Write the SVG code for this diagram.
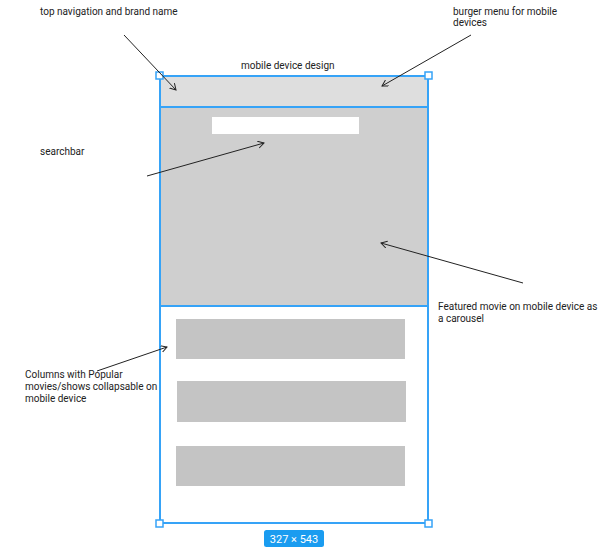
<svg xmlns="http://www.w3.org/2000/svg" width="600" height="550" viewBox="0 0 600 550">
  <style>
    .lbl { font-family: Roboto, "Liberation Sans", sans-serif; font-size: 10px; fill: #222; }
    .sel { fill: none; stroke: #36a3f7; stroke-width: 2; }
    .handle { fill: #fff; stroke: #36a3f7; stroke-width: 1.5; }
    .card { fill: #c4c4c4; }
    .conn { stroke: #222; stroke-width: 1; fill: none; marker-end: url(#arrow); }
    .badge-text { font-family: Roboto, "Liberation Sans", sans-serif; font-size: 11px; fill: #fff; }
  </style>
  <defs>
    <marker id="arrow" markerUnits="userSpaceOnUse" markerWidth="10" markerHeight="10" refX="6" refY="3.5" orient="auto">
      <path d="M0,0 L6,3.5 L0,7" fill="none" stroke="#222" stroke-width="1"/>
    </marker>
  </defs>
  <rect width="600" height="550" fill="#fff"/>

  <text class="lbl" x="241" y="69">mobile device design</text>

  <g id="header">
    <rect x="160" y="76" width="268" height="31" fill="#dedede"/>
  </g>
  <g id="hero">
    <rect x="160" y="107" width="268" height="199" fill="#cfcfcf"/>
  </g>
  <g id="searchbar">
    <rect x="212" y="117" width="147" height="17" fill="#fff"/>
  </g>
  <g id="card-1">
    <rect class="card" x="176" y="319" width="229" height="40"/>
  </g>
  <g id="card-2">
    <rect class="card" x="177" y="381" width="229" height="41"/>
  </g>
  <g id="card-3">
    <rect class="card" x="176" y="446" width="229" height="40"/>
  </g>

  <g id="frame">
    <rect class="sel" x="160" y="76" width="268" height="447"/>
    <line x1="160" y1="107" x2="428" y2="107" stroke="#36a3f7" stroke-width="2"/>
    <line x1="160" y1="306" x2="428" y2="306" stroke="#36a3f7" stroke-width="2"/>
    <rect class="handle" x="156" y="72" width="7" height="7"/>
    <rect class="handle" x="425" y="72" width="7" height="7"/>
    <rect class="handle" x="156" y="520" width="7" height="7"/>
    <rect class="handle" x="425" y="520" width="7" height="7"/>
  </g>

  <g id="size-badge">
    <rect x="264" y="530" width="60" height="17" rx="2.5" fill="#1a9cf0"/>
    <text class="badge-text" x="294" y="542.5" text-anchor="middle">327 × 543</text>
  </g>

  <g id="note-nav">
    <text class="lbl" x="40" y="15">top navigation and brand name</text>
  </g>
  <g id="note-burger">
    <text class="lbl" x="453" y="15">burger menu for mobile</text>
    <text class="lbl" x="453" y="26">devices</text>
  </g>
  <g id="note-search">
    <text class="lbl" x="40" y="155">searchbar</text>
  </g>
  <g id="note-featured">
    <text class="lbl" x="438" y="310">Featured movie on mobile device as</text>
    <text class="lbl" x="438" y="322">a carousel</text>
  </g>
  <g id="note-columns">
    <text class="lbl" x="25" y="378">Columns with Popular</text>
    <text class="lbl" x="25" y="390">movies/shows collapsable on</text>
    <text class="lbl" x="25" y="402">mobile device</text>
  </g>

  <g id="connectors">
    <line class="conn" x1="124" y1="35" x2="176" y2="90"/>
    <line class="conn" x1="471" y1="35" x2="382" y2="86"/>
    <line class="conn" x1="147" y1="176" x2="264" y2="143"/>
    <line class="conn" x1="523" y1="283" x2="381" y2="243"/>
    <line class="conn" x1="97" y1="371" x2="167" y2="347"/>
  </g>
</svg>
